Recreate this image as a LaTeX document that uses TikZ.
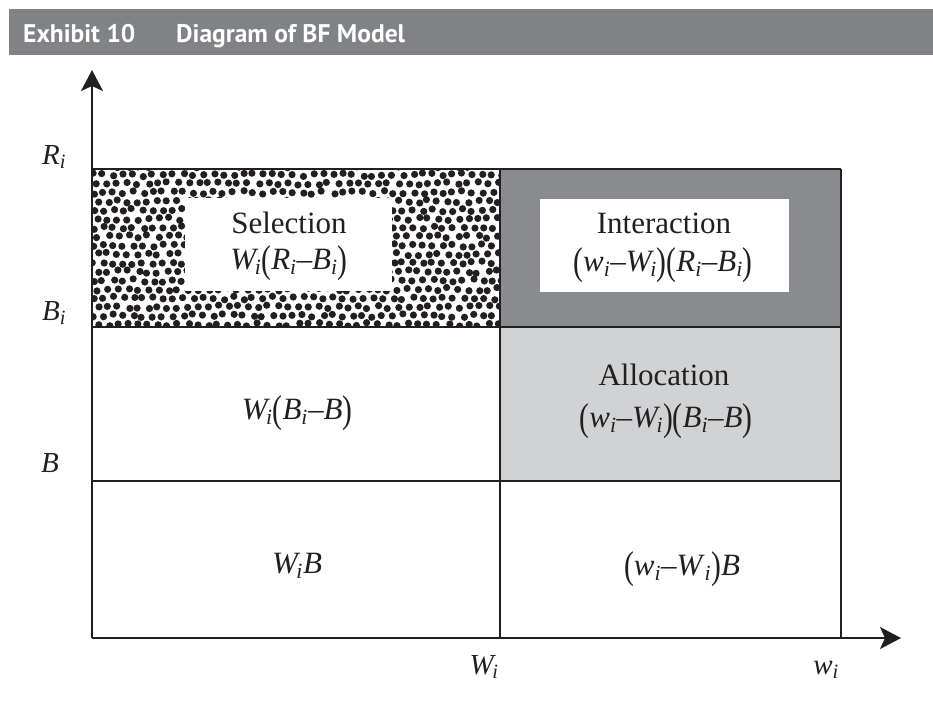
\documentclass[tikz,border=0pt]{standalone}
\usepackage{fontspec}
\setmainfont{Liberation Serif}
\newfontfamily\headfont{PT Sans}
\usetikzlibrary{arrows.meta}

\definecolor{headgray}{RGB}{128,130,133}
\definecolor{darkcell}{RGB}{138,139,142}
\definecolor{lightcell}{RGB}{209,210,212}
\definecolor{ink}{RGB}{35,31,32}

% italic variables, subscripts and tall parentheses
\newcommand\vi[1]{\textit{#1}}
\newcommand\isub{\textsubscript{\itshape i}}
\newcommand\Wsub{\kern-0.12em\textsubscript{\itshape i}}
\newcommand\lpar{\raisebox{-0.12em}{\scalebox{0.95}[1.25]{(}}}
\newcommand\rpar{\raisebox{-0.12em}{\scalebox{0.95}[1.25]{)}}}
\newcommand\mi{\textendash}

\tikzset{
  gridline/.style={draw=ink, line width=1.6pt},
  axisline/.style={draw=ink, line width=2pt, -{Stealth[length=21pt, width=22pt, inset=5pt]}},
  celltext/.style={anchor=base, inner sep=0pt, text=ink, font=\fontsize{31}{31}\selectfont},
  axislabel/.style={anchor=base, inner sep=0pt, text=ink, font=\fontsize{29}{29}\selectfont},
  headtext/.style={anchor=base west, inner sep=0pt, text=white, font=\headfont\bfseries\fontsize{25.5}{25.5}\selectfont},
  labelbox/.style={fill=white, draw=none}
}

\begin{document}
\begin{tikzpicture}[x=1pt, y=-1pt]
\path[use as bounding box] (0,0) rectangle (933,705);

% title bar
\fill[headgray] (9,9) rectangle (933,55);
\node[headtext] (exh) at (23,42) {Exhibit 10};
\node[headtext] (ttl) at (176,42) {Diagram of BF Model};

% key points of the plot
\coordinate (O) at (92,638);
\coordinate (ytip) at (92,70);
\coordinate (xtip) at (901,638);

% shaded cells
\fill[darkcell] (500,169) rectangle (841,327);
\fill[lightcell] (500,327) rectangle (841,481);

% stippled selection cell
\begin{scope}
  \clip (92,169) rectangle (500,327);
  \pgfmathsetseed{42}
  \foreach \r in {0,...,18}{
    \foreach \c in {0,...,41}{
      \pgfmathsetmacro\xx{88 + 10*\c + mod(\r,2)*5 + 2.0*rand}
      \pgfmathsetmacro\yy{166 + 8.8*\r + 1.8*rand}
      \fill[ink] (\xx,\yy) circle[radius=3.6];
    }
  }
\end{scope}

% white label panels
\fill[labelbox] (185,198) rectangle (392,291);
\fill[labelbox] (540,199) rectangle (789,292);

% grid
\draw[gridline] (92,169) -- (841,169);
\draw[gridline] (92,327) -- (841,327);
\draw[gridline] (92,481) -- (841,481);
\draw[gridline] (500,169) -- (500,638);
\draw[gridline] (841,169) -- (841,638);

% axes
\draw[axisline] (O) -- (ytip);
\draw[axisline] (O) -- (xtip);

% axis labels
\node[axislabel] (lRi) at (54,164) {\vi{R}\isub};
\node[axislabel] (lBi) at (54,320) {\vi{B}\isub};
\node[axislabel] (lB)  at (50,472) {\vi{B}};
\node[axislabel] (lWi) at (484,674) {\vi{W}\Wsub};
\node[axislabel] (lwi) at (826,674) {\vi{w}\isub};

% cell texts
\node[celltext] (sel)  at (289,233) {Selection};
\node[celltext] (self) at (289,269) {\vi{W}\Wsub\lpar\vi{R}\isub\mi\vi{B}\isub\rpar};
\node[celltext] (int)  at (664,233) {Interaction};
\node[celltext] (intf) at (663,271) {\lpar\vi{w}\isub\mi\vi{W}\Wsub\rpar\lpar\vi{R}\isub\mi\vi{B}\isub\rpar};
\node[celltext] (all)  at (664,385) {Allocation};
\node[celltext] (allf) at (666,427) {\lpar\vi{w}\isub\mi\vi{W}\Wsub\rpar\lpar\vi{B}\isub\mi\vi{B}\rpar};
\node[celltext] (sb)   at (297,419) {\vi{W}\Wsub\lpar\vi{B}\isub\mi\vi{B}\rpar};
\node[celltext] (wb)   at (297,573) {\vi{W}\Wsub\vi{B}};
\node[celltext] (ab)   at (682,575) {\lpar\vi{w}\isub\mi\vi{W}\isub\rpar\vi{B}};
\end{tikzpicture}
\end{document}
